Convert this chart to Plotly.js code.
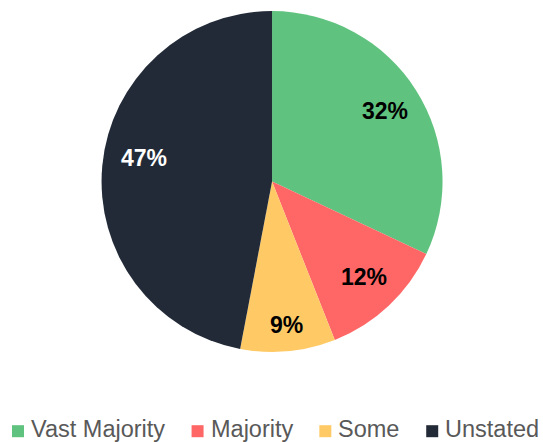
<!DOCTYPE html>
<html>
<head>
<meta charset="utf-8">
<script src="https://cdn.plot.ly/plotly-3.0.1.min.js"></script>
<style>html,body{margin:0;padding:0;background:#fff;}#chart{width:543px;height:442px;}</style>
</head>
<body>
<div id="chart"></div>
<script>
var categories = ["Vast Majority", "Majority", "Some", "Unstated"];
var shares = [32, 12, 9, 47];
var sliceColors = ["#5FC27E", "#FF6666", "#FFCA66", "#222A37"];
var labelColors = ["#000000", "#000000", "#000000", "#FFFFFF"];

var W = 543, H = 442;
var FONT = "Liberation Sans, Arial, sans-serif";
var pieDomain = {x: [0.187, 0.815], y: [0.2036, 0.975]};

var trace = {
  type: "pie",
  labels: categories,
  values: shares,
  sort: false,
  direction: "clockwise",
  rotation: 0,
  marker: {colors: sliceColors, line: {width: 0}},
  textinfo: "none",
  hoverinfo: "label+percent",
  showlegend: false,
  domain: pieDomain
};

// pie geometry (pixels) derived from the domain
var cx = W * (pieDomain.x[0] + pieDomain.x[1]) / 2 + 1.5;
var cy = H * (1 - (pieDomain.y[0] + pieDomain.y[1]) / 2);
var R = Math.min(W * (pieDomain.x[1] - pieDomain.x[0]), H * (pieDomain.y[1] - pieDomain.y[0])) / 2;
var labelInset = 39;
var labelNudge = [[0, 0], [0, 0], [1, 13], [1, -11]];

var total = shares.reduce(function (a, b) { return a + b; }, 0);
var annotations = [];
var shapes = [];
var cum = 0;
shares.forEach(function (v, i) {
  var mid = (cum + v / 2) / total * 2 * Math.PI;
  cum += v;
  var r = R - labelInset;
  var px = cx + r * Math.sin(mid) + labelNudge[i][0];
  var py = cy - r * Math.cos(mid) + labelNudge[i][1];
  annotations.push({
    xref: "paper", yref: "paper",
    x: px / W, y: 1 - py / H,
    xanchor: "center", yanchor: "middle",
    text: Math.round(v / total * 100) + "%",
    showarrow: false,
    font: {family: FONT, size: 23, color: labelColors[i], weight: "bold"}
  });
});

// legend (squares + labels) laid out from measured text widths
var legendFontSize = 23.5;
var ctx = document.createElement("canvas").getContext("2d");
ctx.font = legendFontSize + "px 'Liberation Sans', Arial, sans-serif";
var lx = 12, sq = 12, sqGap = 6, itemGap = 27.5, legendMidY = 431.2, legendTextY = 429.3;
categories.forEach(function (name, i) {
  shapes.push({
    type: "rect", xref: "paper", yref: "paper",
    x0: lx / W, x1: (lx + sq) / W,
    y0: 1 - (legendMidY + sq / 2) / H, y1: 1 - (legendMidY - sq / 2) / H,
    fillcolor: sliceColors[i], line: {width: 0}
  });
  var tx = lx + sq + sqGap;
  annotations.push({
    xref: "paper", yref: "paper",
    x: (tx - 1) / W, y: 1 - legendTextY / H,
    xanchor: "left", yanchor: "middle",
    text: name, showarrow: false,
    font: {family: FONT, size: legendFontSize, color: "#595959"}
  });
  lx = tx + ctx.measureText(name).width + itemGap;
});

var layout = {
  width: W,
  height: H,
  margin: {l: 0, r: 0, t: 0, b: 0},
  paper_bgcolor: "#ffffff",
  showlegend: false,
  annotations: annotations,
  shapes: shapes
};

Plotly.newPlot("chart", [trace], layout, {displayModeBar: false, staticPlot: true});
</script>
</body>
</html>
